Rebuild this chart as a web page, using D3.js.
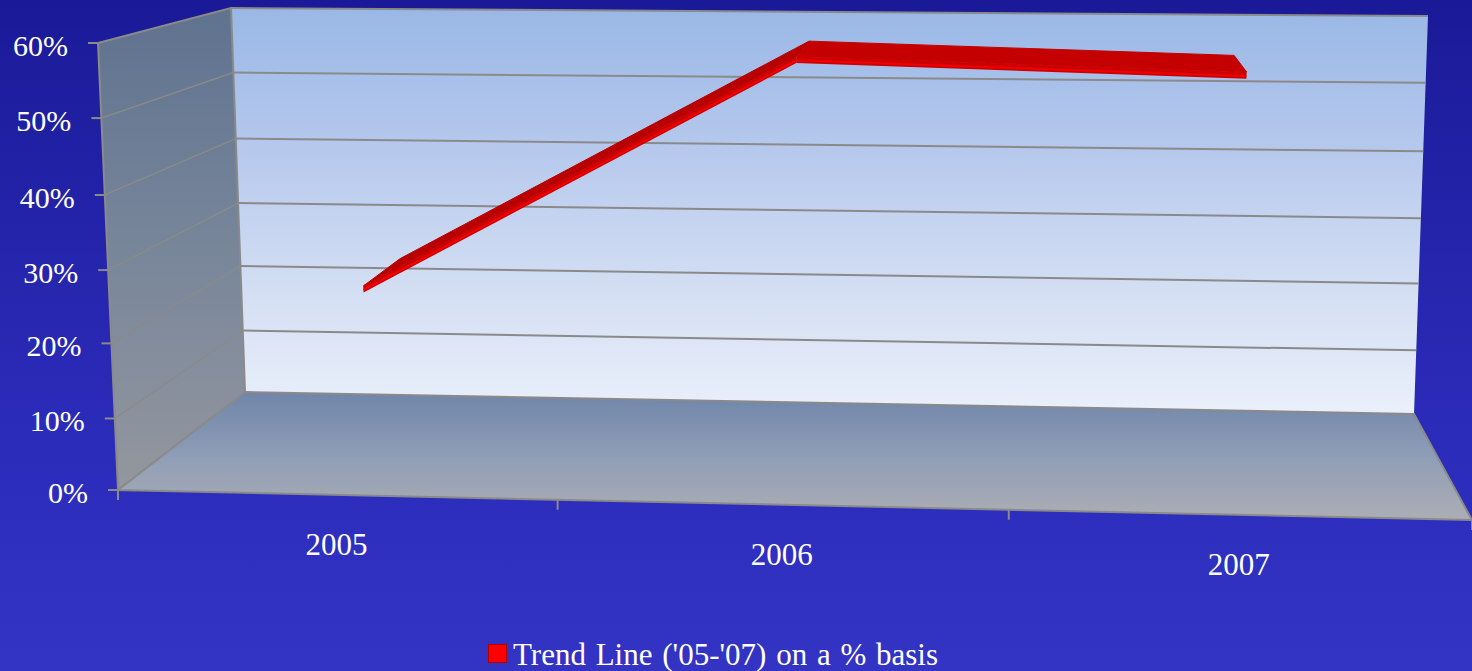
<!DOCTYPE html>
<html>
<head>
<meta charset="utf-8">
<title>Trend Line</title>
<script src="https://cdn.jsdelivr.net/npm/d3@7"></script>
<style>
  html, body { margin: 0; padding: 0; overflow: hidden; background: #2a2ab8; }
  svg { display: block; }
  text { font-family: "Liberation Serif", "Times New Roman", serif; fill: #ffffff; }
</style>
</head>
<body>
<svg id="chart" width="1472" height="671"></svg>
<script>
// Chart content
const years = ["2005", "2006", "2007"];
const trendValues = [26.2, 58, 56.5];
const seriesName = "Trend Line ('05-'07) on a % basis";
const valueTicks = [0, 10, 20, 30, 40, 50, 60];

const width = 1472, height = 671;
const svg = d3.select("#chart");

// Corners of the 3D plot box, [x, y] on screen.
const box = {
  frontBottomLeft:  [118, 490],
  frontBottomRight: [1472, 520],
  frontTopLeft:     [98, 43],
  frontTopRight:    [1496, 57],
  backBottomLeft:   [245, 392],
  backBottomRight:  [1414, 414],
  backTopLeft:      [231, 8],
  backTopRight:     [1428, 16]
};

// Scales onto the unit cube: across, up and depth (0 is the front, 1 the back).
const yUnit = d3.scaleLinear().domain(valueTicks).range([0, 0.16, 0.328, 0.492, 0.66, 0.832, 1]);
const xBand = d3.scaleBand().domain(years).range([0, 1]);
const xSeries = d3.scalePoint().domain(years).range([0.175, 0.833]);
const ribbonDepth = [0.22, 0.6];
const ribbonThickness = 0.9;

// Slight foreshortening along the width of the box.
const foreshorten = u => u / (u + 1.04 * (1 - u));

const mix = (a, b, t) => [a[0] + (b[0] - a[0]) * t, a[1] + (b[1] - a[1]) * t];

function project(u, value, depth) {
  const x = foreshorten(u), y = yUnit(value);
  const fb = mix(box.frontBottomLeft, box.frontBottomRight, x);
  const ft = mix(box.frontTopLeft, box.frontTopRight, x);
  const bb = mix(box.backBottomLeft, box.backBottomRight, x);
  const bt = mix(box.backTopLeft, box.backTopRight, x);
  return mix(mix(fb, ft, y), mix(bb, bt, y), depth);
}

const pathOf = d3.line();
const closed = pts => pathOf(pts) + "Z";

// Gradients
const defs = svg.append("defs");
function gradient(id, stops, attrs) {
  const g = defs.append("linearGradient").attr("id", id)
    .attr("gradientUnits", "userSpaceOnUse");
  Object.entries(attrs).forEach(([k, v]) => g.attr(k, v));
  stops.forEach(([o, c]) => g.append("stop").attr("offset", o).attr("stop-color", c));
}
gradient("page", [[0, "#1a1a98"], [0.62, "#2b2bb9"], [0.83, "#2f2fc0"], [1, "#3333c4"]], {x1: 0, y1: 0, x2: 0, y2: height});
gradient("backWall", [[0, "#9ab8e6"], [0.3, "#b2c6ec"], [0.7, "#d4dff3"], [1, "#eaf0fb"]], {x1: 0, y1: 10, x2: 0, y2: 414});
gradient("sideWall", [[0, "#60738f"], [0.5, "#78869a"], [1, "#92969e"]], {x1: 0, y1: 20, x2: 0, y2: 480});
gradient("floor", [[0, "#7186aa"], [0.5, "#8e9db6"], [1, "#aaadb4"]], {x1: 0, y1: 395, x2: 0, y2: 515});

svg.append("rect").attr("width", width).attr("height", height).attr("fill", "url(#page)");

const edge = "#8a8a8a";

// Back wall, side wall, floor
svg.append("path").attr("fill", "url(#backWall)")
  .attr("d", closed([project(0, 60, 1), project(1, 60, 1), project(1, 0, 1), project(0, 0, 1)]));
svg.append("path").attr("fill", "url(#sideWall)").attr("stroke", edge).attr("stroke-width", 2)
  .attr("d", closed([project(0, 60, 0), project(0, 60, 1), project(0, 0, 1), project(0, 0, 0)]));
svg.append("path").attr("fill", "url(#floor)").attr("stroke", edge).attr("stroke-width", 2)
  .attr("d", closed([project(0, 0, 0), project(0, 0, 1), project(1, 0, 1), project(1, 0, 0)]));

// Gridlines across both walls
const grid = svg.append("g").attr("fill", "none").attr("stroke", edge);
grid.selectAll("path.back").data(valueTicks.filter(v => v > 0)).join("path")
  .attr("class", "back").attr("stroke-width", 2)
  .attr("d", v => pathOf([project(0, v, 1), project(1, v, 1)]));
grid.selectAll("path.side").data(valueTicks.filter(v => v > 0 && v < 60)).join("path")
  .attr("class", "side").attr("stroke-width", 1.4)
  .attr("d", v => pathOf([project(0, v, 0), project(0, v, 1)]));

// Value axis ticks and labels
const yAxis = svg.append("g");
yAxis.selectAll("path").data(valueTicks).join("path")
  .attr("stroke", edge).attr("stroke-width", 2)
  .attr("d", v => {
    const p = project(0, v, 0);
    return pathOf([[p[0] - 10, p[1]], p]);
  });
yAxis.selectAll("text").data(valueTicks).join("text")
  .attr("text-anchor", "end").attr("font-size", 30)
  .attr("x", v => project(0, v, 0)[0] - 30)
  .attr("y", v => project(0, v, 0)[1] + 13)
  .text(v => v + "%");

// Category axis ticks and labels
const xAxis = svg.append("g");
xAxis.selectAll("path").data(d3.range(years.length + 1).map(i => i / years.length)).join("path")
  .attr("stroke", edge).attr("stroke-width", 2)
  .attr("d", u => {
    const p = project(u, 0, 0);
    return pathOf([p, [p[0], p[1] + 10]]);
  });
xAxis.selectAll("text").data(years).join("text")
  .attr("text-anchor", "middle").attr("font-size", 31)
  .attr("x", d => project(xBand(d) + xBand.bandwidth() / 2, 0, 0)[0])
  .attr("y", d => project(xBand(d) + xBand.bandwidth() / 2, 0, 0)[1] + 60)
  .text(d => d);

// Ribbon for the series: top face, front face and a bright highlight per segment
const points = years.map((y, i) => ({u: xSeries(y), v: trendValues[i]}));
const segments = d3.pairs(points);
const ribbon = svg.append("g");
const faceColor = ([a, b]) => (b.v > a.v ? "#b80000" : "#c40000");
ribbon.selectAll("path.top").data(segments).join("path")
  .attr("class", "top").attr("fill", faceColor).attr("stroke", faceColor).attr("stroke-width", 1)
  .attr("d", ([a, b]) => closed([
    project(a.u, a.v, ribbonDepth[0]), project(b.u, b.v, ribbonDepth[0]),
    project(b.u, b.v, ribbonDepth[1]), project(a.u, a.v, ribbonDepth[1])
  ]));
ribbon.selectAll("path.front").data(segments).join("path")
  .attr("class", "front").attr("fill", "#cc0000")
  .attr("d", ([a, b]) => closed([
    project(a.u, a.v, ribbonDepth[0]), project(b.u, b.v, ribbonDepth[0]),
    project(b.u, b.v - ribbonThickness, ribbonDepth[0]), project(a.u, a.v - ribbonThickness, ribbonDepth[0])
  ]));
ribbon.selectAll("path.highlight").data(segments).join("path")
  .attr("class", "highlight").attr("fill", "none").attr("stroke", "#f40000").attr("stroke-width", 1.8)
  .attr("d", ([a, b]) => pathOf([
    project(a.u, a.v - ribbonThickness * 0.6, ribbonDepth[0]),
    project(b.u, b.v - ribbonThickness * 0.6, ribbonDepth[0])
  ]));

// Legend
const legend = svg.append("g");
legend.append("rect").attr("x", 488.5).attr("y", 644.5).attr("width", 18).attr("height", 18)
  .attr("fill", "#ff0000").attr("stroke", "#b00000").attr("stroke-width", 1);
legend.append("text").attr("x", 513).attr("y", 665).attr("font-size", 31)
  .attr("word-spacing", 2).text(seriesName);
</script>
</body>
</html>
